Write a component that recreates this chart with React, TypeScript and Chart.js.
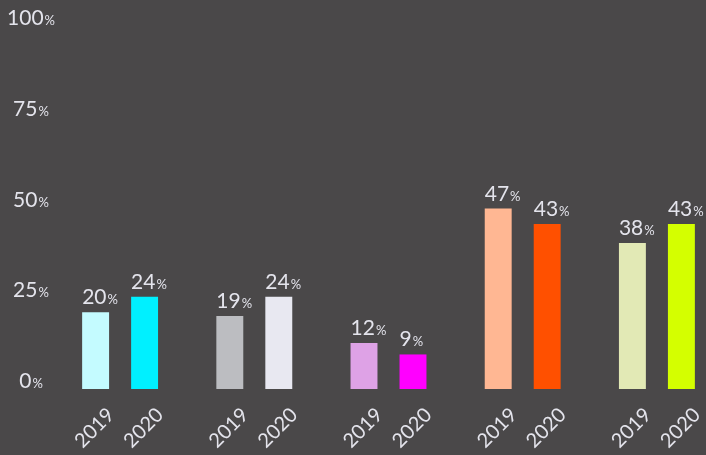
import React, { useEffect, useRef } from 'react';
import { Chart, registerables } from 'chart.js';

Chart.register(...registerables);

const categories = ['Group A', 'Group B', 'Group C', 'Group D', 'Group E'];
const years = ['2019', '2020'];
const values2019 = [20, 19, 12, 47, 38];
const values2020 = [24, 24, 9, 43, 43];
const colors2019 = ['#c4fbff', '#bcbdc1', '#dea2e6', '#ffb793', '#e2e9b5'];
const colors2020 = ['#00f0ff', '#e8e8f1', '#ff00ff', '#ff5000', '#d4ff00'];
const yTicks = [0, 25, 50, 75, 100];
const suffix = '%';

const BG = '#4a4849';
const TEXT = '#e4e4ec';
const FAMILY = 'Lato, sans-serif';
const NUM_FONT = `21px ${FAMILY}`;
const PCT_FONT = `13px ${FAMILY}`;
const XLAB_FONT = `20px ${FAMILY}`;

function drawValue(ctx: CanvasRenderingContext2D, num: string, x: number, y: number, align: 'left' | 'center') {
  ctx.font = NUM_FONT;
  const w1 = ctx.measureText(num).width;
  ctx.font = PCT_FONT;
  const w2 = ctx.measureText(suffix).width;
  const gap = 1;
  const total = w1 + gap + w2;
  const start = align === 'left' ? x : x - total / 2;
  ctx.textAlign = 'left';
  ctx.textBaseline = 'alphabetic';
  ctx.fillStyle = TEXT;
  ctx.font = NUM_FONT;
  ctx.fillText(num, start, y);
  ctx.font = PCT_FONT;
  ctx.fillText(suffix, start + w1 + gap, y);
}

const labelPlugin = {
  id: 'customLabels',
  afterDatasetsDraw(chart: any) {
    const ctx: CanvasRenderingContext2D = chart.ctx;
    ctx.save();
    // y-axis tick labels
    const y2 = chart.scales.y2;
    yTicks.forEach((v) => {
      const py = y2.getPixelForValue(v);
      drawValue(ctx, String(v), 31, py + 7.5, 'center');
    });
    // bar value labels and year labels
    chart.data.datasets.forEach((ds: any, i: number) => {
      const meta = chart.getDatasetMeta(i);
      meta.data.forEach((bar: any, j: number) => {
        const val = ds.data[j];
        drawValue(ctx, String(val), bar.x - bar.width / 2, bar.y - 8, 'left');
        ctx.save();
        ctx.translate(bar.x - 1, 428);
        ctx.rotate(-Math.PI / 4);
        ctx.font = XLAB_FONT;
        ctx.fillStyle = TEXT;
        ctx.textAlign = 'center';
        ctx.textBaseline = 'middle';
        ctx.fillText(years[i], 0, 0);
        ctx.restore();
      });
    });
    ctx.restore();
  },
};

export default function App() {
  const ref = useRef<HTMLCanvasElement>(null);
  useEffect(() => {
    if (!ref.current) return;
    const chart = new Chart(ref.current, {
      type: 'bar',
      data: {
        labels: categories,
        datasets: [
          { label: years[0], data: values2019, backgroundColor: colors2019, categoryPercentage: 0.73, barPercentage: 0.55 },
          { label: years[1], data: values2020, backgroundColor: colors2020, categoryPercentage: 0.73, barPercentage: 0.55 },
        ],
      },
      options: {
        animation: false,
        responsive: false,
        layout: { padding: { left: 53, right: 6, top: 5, bottom: 66 } },
        plugins: { legend: { display: false }, tooltip: { enabled: false } },
        scales: {
          x: { type: 'category', display: false, offset: true },
          y: { type: 'linear', display: false, min: 0, max: 100 },
          y2: { type: 'linear', display: false, min: -2.2, max: 103.3 },
        },
      },
      plugins: [labelPlugin],
    });
    return () => chart.destroy();
  }, []);
  return (
    <div style={{ position: 'fixed', left: 0, top: 0, width: 706, height: 455, overflow: 'hidden', background: BG }}>
      <canvas ref={ref} width={730} height={455} style={{ display: 'block' }} />
    </div>
  );
}
